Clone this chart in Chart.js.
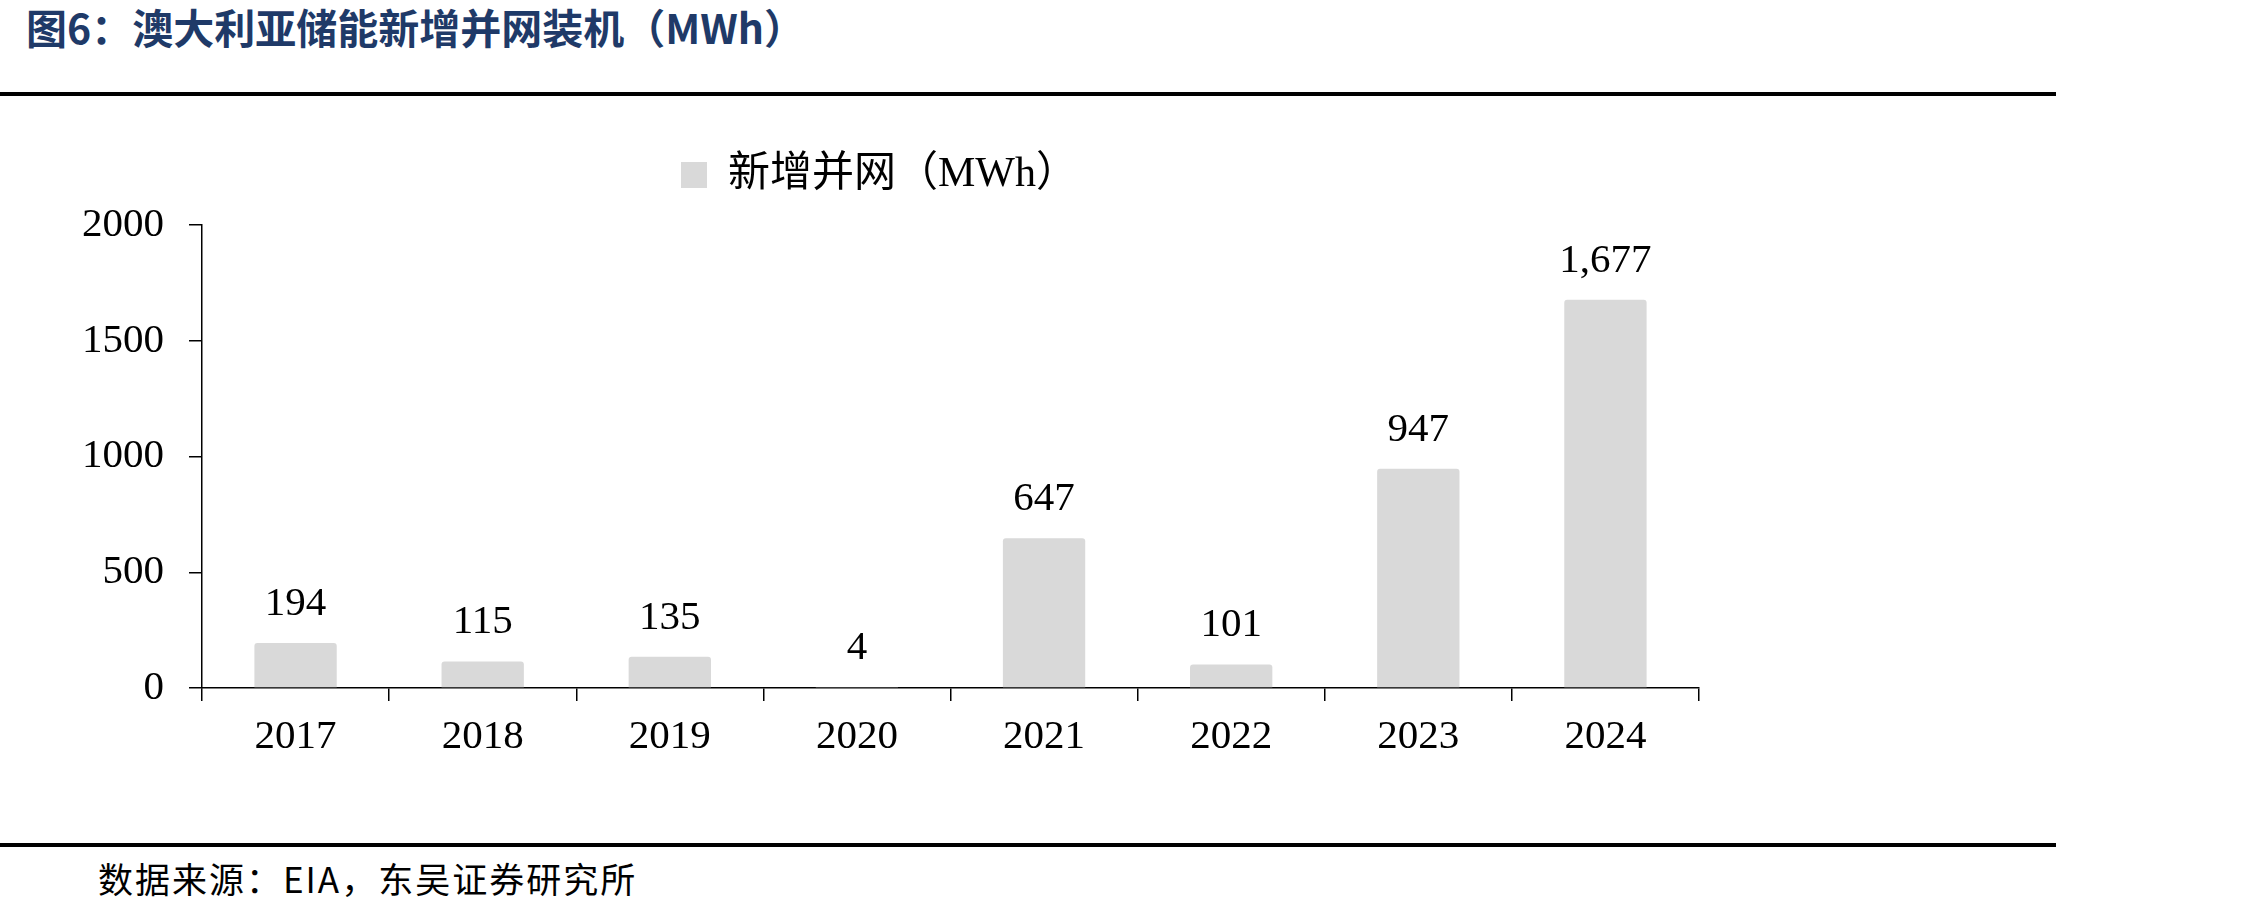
<!DOCTYPE html>
<html>
<head>
<meta charset="utf-8">
<script src="https://cdn.jsdelivr.net/npm/chart.js@4.4.1/dist/chart.umd.min.js"></script>
<style>
  html, body { margin: 0; padding: 0; background: #fff; width: 2258px; height: 914px; overflow: hidden; position: relative; }
  #title { position: absolute; left: 26px; top: 0px; font-family: "Noto Sans CJK SC", sans-serif; font-weight: 700; font-size: 41px; color: #1F3A68; white-space: nowrap; line-height: 52px; }
  .rule { position: absolute; left: 0; width: 2056px; height: 4px; background: #000; }
  #source { position: absolute; left: 98px; top: 856px; font-family: "Noto Sans CJK SC", sans-serif; font-size: 35px; color: #000; white-space: nowrap; line-height: 44px; letter-spacing: 2px; }
  #wrap { position: absolute; left: 0; top: 0; width: 1732px; height: 800px; }
</style>
</head>
<body>
<div id="title">图6：澳大利亚储能新增并网装机（MWh）</div>
<div class="rule" style="top:92px"></div>
<div class="rule" style="top:843px"></div>
<div id="source">数据来源：EIA，东吴证券研究所</div>
<div id="wrap"><canvas id="c" width="1732" height="800"></canvas></div>
<script>
const categories = ["2017", "2018", "2019", "2020", "2021", "2022", "2023", "2024"];
const seriesName = "新增并网（MWh）";
const values = [194, 115, 135, 4, 647, 101, 947, 1677];
const yTicks = [0, 500, 1000, 1500, 2000];

const SERIF = '"Liberation Serif", "Times New Roman", "Noto Sans CJK SC", serif';

const valueLabels = {
  id: 'valueLabels',
  afterDatasetsDraw(chart) {
    const ctx = chart.ctx;
    const meta = chart.getDatasetMeta(0);
    ctx.save();
    ctx.font = '41px ' + SERIF;
    ctx.fillStyle = '#000';
    ctx.textAlign = 'center';
    ctx.textBaseline = 'middle';
    meta.data.forEach((bar, i) => {
      ctx.fillText(values[i].toLocaleString('en-US'), bar.x, bar.y - 39);
    });
    ctx.restore();
  }
};

const legendShift = {
  id: 'legendShift',
  afterLayout(chart) {
    const lg = chart.legend;
    if (lg) { lg.top -= 19; lg.bottom -= 19; lg.left += 30; lg.right += 30; }
  }
};

new Chart(document.getElementById('c'), {
  type: 'bar',
  data: {
    labels: categories,
    datasets: [{
      label: seriesName,
      data: values,
      backgroundColor: '#D9D9D9',
      borderWidth: 0,
      borderRadius: 3,
      borderSkipped: 'start',
      categoryPercentage: 1,
      barPercentage: 0.44
    }]
  },
  options: {
    responsive: false,
    animation: false,
    devicePixelRatio: 1,
    layout: { padding: { left: 0, right: 33, top: 129, bottom: 0 } },
    plugins: {
      legend: {
        display: true,
        position: 'top',
        labels: {
          boxWidth: 26, boxHeight: 26,
          color: '#000',
          padding: 44,
          font: { family: SERIF, size: 42 }
        }
      },
      tooltip: { enabled: false }
    },
    scales: {
      x: {
        offset: true,
        grid: { display: true, drawOnChartArea: false, drawTicks: true, tickLength: 13, color: '#000', lineWidth: 1.5, offset: true },
        border: { display: true, color: '#000', width: 1.5 },
        ticks: { color: '#000', font: { family: SERIF, size: 41 }, padding: 12 },
        afterFit(s) { s.height = 112; }
      },
      y: {
        min: 0, max: 2000,
        afterBuildTicks(s) { s.ticks = yTicks.map(v => ({ value: v })); },
        grid: { display: true, drawOnChartArea: false, drawTicks: true, tickLength: 13, color: '#000', lineWidth: 1.5 },
        border: { display: true, color: '#000', width: 1.5 },
        ticks: { color: '#000', font: { family: SERIF, size: 41 }, padding: 25, callback: (v) => String(v) },
        afterFit(s) { s.width = 202; }
      }
    }
  },
  plugins: [valueLabels, legendShift]
});
</script>
</body>
</html>
